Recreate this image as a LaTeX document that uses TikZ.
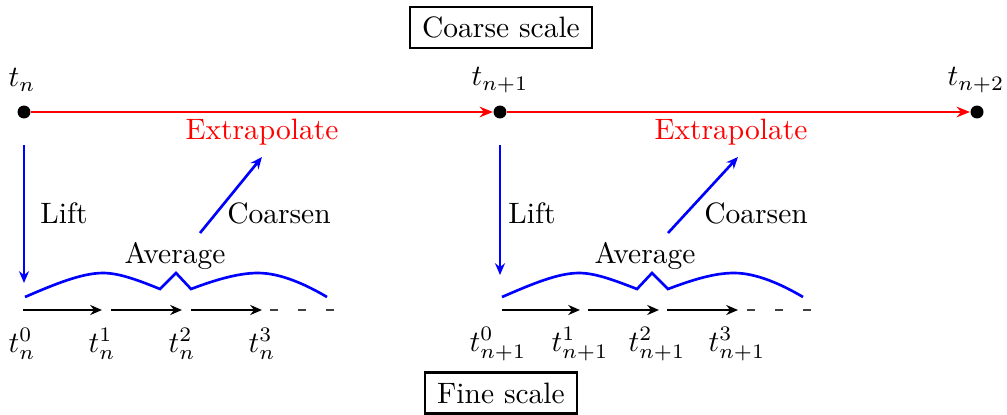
\documentclass[tikz,border=0pt]{standalone}
\usetikzlibrary{arrows.meta}
\begin{document}
\begin{tikzpicture}[x=0.339pt,y=-0.339pt,
  dot/.style={circle,fill=black,inner sep=0pt,minimum size=4.4pt},
  coarsearrow/.style={red,line width=0.7pt,-{Stealth[length=4.5pt,width=3.6pt]}},
  oparrow/.style={blue,line width=0.9pt,-{Stealth[length=4pt,width=3.4pt]}},
  finearrow/.style={black,line width=1pt,-{Stealth[length=4pt,width=3.4pt]}},
  trail/.style={black!75,line width=0.6pt,dash pattern=on 2.7pt off 6.8pt},
  avgline/.style={blue,line width=0.9pt},
  scalebox/.style={draw,line width=0.8pt,inner xsep=4.2pt,inner ysep=3.4pt},
  lbl/.style={inner sep=0pt}]
\useasboundingbox (0,0) rectangle (1007,415);

% scale boxes
\node[scalebox] (coarsebox) at (501,27.5) {Coarse scale};
\node[scalebox] (finebox) at (501,393) {Fine scale};

% coarse time points
\node[dot] (c0) at (24,112) {};
\node[dot] (c1) at (500,112) {};
\node[dot] (c2) at (977,112) {};
\node[lbl] (tc0) at (22,80) {$t_n$};
\node[lbl] (tc1) at (500,80) {$t_{n+1}$};
\node[lbl] (tc2) at (976,80) {$t_{n+2}$};
\draw[coarsearrow] (c0) -- (c1);
\draw[coarsearrow] (c1) -- (c2);
\node[red] (ex0) at (262,132) {Extrapolate};
\node[red] (ex1) at (731,132) {Extrapolate};

% ---------- group 1 ----------
\coordinate (lift0a) at (24,145);
\coordinate (lift0b) at (24,283);
\draw[oparrow] (lift0a) -- (lift0b);
\node (lift0) at (64,213) {Lift};
\coordinate (cs0a) at (200,233);
\coordinate (cs0b) at (262,157);
\draw[oparrow] (cs0a) -- (cs0b);
\node (coarsen0) at (279,213) {Coarsen};
\node (avg0) at (175,256) {Average};
\draw[avgline] (25,297) .. controls (55,284) and (82,273) .. (103,273)
  .. controls (120,273) and (140,281) .. (160,289) -- (176,273) -- (191,289)
  .. controls (215,280) and (238,273) .. (258,273)
  .. controls (280,273) and (305,284) .. (327,297);
\coordinate (f00) at (23,310);
\coordinate (f01) at (102,310);
\coordinate (f01s) at (111,310);
\coordinate (f02) at (182,310);
\coordinate (f02s) at (191,310);
\coordinate (f03) at (262,310);
\coordinate (d0a) at (270,310);
\coordinate (d0b) at (335,310);
\draw[finearrow] (f00) -- (f01);
\draw[finearrow] (f01s) -- (f02);
\draw[finearrow] (f02s) -- (f03);
\draw[trail] (d0a) -- (d0b);
\node[lbl] (t00) at (22,344) {$t_n^0$};
\node[lbl] (t01) at (102,344) {$t_n^1$};
\node[lbl] (t02) at (182,344) {$t_n^2$};
\node[lbl] (t03) at (262,344) {$t_n^3$};

% ---------- group 2 ----------
\coordinate (lift1a) at (500,145);
\coordinate (lift1b) at (500,275);
\draw[oparrow] (lift1a) -- (lift1b);
\node (lift1) at (532,213) {Lift};
\coordinate (cs1a) at (668,233);
\coordinate (cs1b) at (738,157);
\draw[oparrow] (cs1a) -- (cs1b);
\node (coarsen1) at (756,213) {Coarsen};
\node (avg1) at (645,256) {Average};
\draw[avgline] (502,297) .. controls (532,284) and (558,273) .. (579,273)
  .. controls (596,273) and (616,281) .. (637,289) -- (652,273) -- (668,289)
  .. controls (692,280) and (714,273) .. (734,273)
  .. controls (756,273) and (781,284) .. (803,297);
\coordinate (f10) at (502,310);
\coordinate (f11) at (580,310);
\coordinate (f11s) at (588,310);
\coordinate (f12) at (659,310);
\coordinate (f12s) at (667,310);
\coordinate (f13) at (738,310);
\coordinate (d1a) at (747,310);
\coordinate (d1b) at (812,310);
\draw[finearrow] (f10) -- (f11);
\draw[finearrow] (f11s) -- (f12);
\draw[finearrow] (f12s) -- (f13);
\draw[trail] (d1a) -- (d1b);
\node[lbl] (t10) at (498,344) {$t_{n+1}^0$};
\node[lbl] (t11) at (580,344) {$t_{n+1}^1$};
\node[lbl] (t12) at (657,344) {$t_{n+1}^2$};
\node[lbl] (t13) at (737,344) {$t_{n+1}^3$};
\end{tikzpicture}
\end{document}
